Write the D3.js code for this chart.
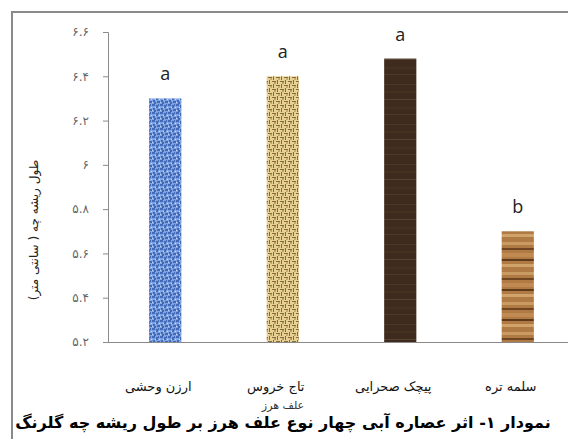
<!DOCTYPE html>
<html>
<head>
<meta charset="utf-8">
<script src="https://cdn.jsdelivr.net/npm/d3@7"></script>
<style>
  body { margin: 0; background: #fff; }
  svg { display: block; }
</style>
</head>
<body>
<main></main>
<script>
// data
const categories = ['ارزن وحشی', 'تاج خروس', 'پیچک صحرایی', 'سلمه تره']
const rootLength = [6.30, 6.40, 6.48, 5.70]
const groupLetters = ['a', 'a', 'a', 'b']
const yTicks = [5.2, 5.4, 5.6, 5.8, 6.0, 6.2, 6.4, 6.6]
const yTitle = 'طول ریشه چه ( سانتی متر)'
const xTitle = 'علف هرز'
const caption = 'نمودار ۱- اثر عصاره آبی چهار نوع علف هرز بر طول ریشه چه گلرنگ'

// sizes
const sizeOfSVG = { width: 568, height: 439 }
const plot = { left: 108, right: 575, top: 32, bottom: 342 }

const svg = d3.select('main')
              .append('svg')
              .attr('width', sizeOfSVG.width)
              .attr('height', sizeOfSVG.height)

// frame round the figure (runs off the right and bottom edge)
svg.append('rect')
   .attr('x', 12).attr('y', 12)
   .attr('width', 620).attr('height', 520)
   .attr('fill', 'none')
   .attr('stroke', '#8a8a8a')
   .attr('stroke-width', 2)

// textures for bars
const defs = svg.append('defs')

// blue mottled
const pBlue = defs.append('pattern').attr('id', 'tex0')
                  .attr('patternUnits', 'userSpaceOnUse').attr('width', 8).attr('height', 8)
pBlue.append('rect').attr('width', 8).attr('height', 8).attr('fill', '#7fa3e3')
;[[0,0,3,2],[4,1,2,3],[1,4,2,2],[5,5,3,2],[2,6,2,2],[6,0,1,2]].forEach(r => {
    pBlue.append('rect').attr('x', r[0]).attr('y', r[1]).attr('width', r[2]).attr('height', r[3])
         .attr('fill', '#2f57a8').attr('opacity', 0.75)
})
;[[3,3,1,1],[0,6,1,1],[7,3,1,1]].forEach(r => {
    pBlue.append('rect').attr('x', r[0]).attr('y', r[1]).attr('width', r[2]).attr('height', r[3])
         .attr('fill', '#c7d8f7')
})

// beige woven
const pWeave = defs.append('pattern').attr('id', 'tex1')
                   .attr('patternUnits', 'userSpaceOnUse').attr('width', 8).attr('height', 8)
pWeave.append('rect').attr('width', 8).attr('height', 8).attr('fill', '#e6d197')
pWeave.append('rect').attr('x', 0).attr('y', 1).attr('width', 4).attr('height', 1).attr('fill', '#8a6a32')
pWeave.append('rect').attr('x', 5).attr('y', 0).attr('width', 1).attr('height', 4).attr('fill', '#8a6a32')
pWeave.append('rect').attr('x', 4).attr('y', 5).attr('width', 4).attr('height', 1).attr('fill', '#8a6a32')
pWeave.append('rect').attr('x', 1).attr('y', 4).attr('width', 1).attr('height', 4).attr('fill', '#8a6a32')
pWeave.append('rect').attr('x', 2).attr('y', 2).attr('width', 2).attr('height', 2).attr('fill', '#a98544').attr('opacity', 0.7)
pWeave.append('rect').attr('x', 6).attr('y', 6).attr('width', 2).attr('height', 2).attr('fill', '#a98544').attr('opacity', 0.5)

// dark wood
const pDark = defs.append('pattern').attr('id', 'tex2')
                  .attr('patternUnits', 'userSpaceOnUse').attr('width', 32).attr('height', 40)
pDark.append('rect').attr('width', 32).attr('height', 40).attr('fill', '#3f2b1d')
;[[4,1,'#4d3626'],[11,2,'#46301f'],[19,1,'#574230'],[27,2,'#452f20'],[34,1,'#4f3a29']].forEach(s => {
    pDark.append('rect').attr('y', s[0]).attr('width', 32).attr('height', s[1]).attr('fill', s[2])
})

// light wood
const pLight = defs.append('pattern').attr('id', 'tex3')
                   .attr('patternUnits', 'userSpaceOnUse').attr('width', 32).attr('height', 30)
pLight.append('rect').attr('width', 32).attr('height', 30).attr('fill', '#b07a45')
;[[2,3,'#c99a62'],[8,2,'#6e4520'],[13,4,'#c08a52'],[19,2,'#5e3a1a'],[24,3,'#d0a36b']].forEach(s => {
    pLight.append('rect').attr('y', s[0]).attr('width', 32).attr('height', s[1]).attr('fill', s[2])
})

// scales
const xScale = d3.scaleBand()
                 .domain(categories)
                 .range([plot.left, plot.right])
                 .paddingInner(0.726)
                 .paddingOuter(0.35)
const yScale = d3.scaleLinear()
                 .domain([5.2, 6.6])
                 .range([plot.bottom, plot.top])

// persian digits for tick labels
const faDigits = s => s.replace(/[0-9]/g, c => '۰۱۲۳۴۵۶۷۸۹'[+c])

// bars
svg.selectAll('rect.bar')
   .data(rootLength)
   .enter()
   .append('rect')
   .attr('class', 'bar')
   .attr('x', (d, i) => xScale(categories[i]))
   .attr('y', d => yScale(d))
   .attr('width', xScale.bandwidth())
   .attr('height', d => plot.bottom - yScale(d))
   .attr('fill', (d, i) => `url(#tex${i})`)

// significance letters
svg.selectAll('text.letter')
   .data(rootLength)
   .enter()
   .append('text')
   .attr('class', 'letter')
   .attr('x', (d, i) => xScale(categories[i]) + xScale.bandwidth() / 2)
   .attr('y', d => yScale(d) - 18)
   .attr('text-anchor', 'middle')
   .style('font-family', 'Open Sans, sans-serif')
   .style('font-size', '18px')
   .style('fill', '#222')
   .text((d, i) => groupLetters[i])

// axes
const yAxis = d3.axisLeft(yScale)
                .tickValues(yTicks)
                .tickSize(5)
                .tickPadding(14)
                .tickFormat(d => faDigits(d3.format('~g')(d)))
const gy = svg.append('g')
              .attr('transform', `translate(${plot.left},0)`)
              .call(yAxis)
gy.select('.domain').attr('stroke', '#8a8a8a')
gy.selectAll('.tick line').attr('stroke', '#8a8a8a')
gy.selectAll('.tick text')
  .style('font-family', 'DejaVu Sans, sans-serif')
  .style('font-size', '12px')
  .style('fill', '#666')

const xAxis = d3.axisBottom(xScale).tickSize(0).tickPadding(40)
const gx = svg.append('g')
              .attr('transform', `translate(0,${plot.bottom})`)
              .call(xAxis)
gx.select('.domain').attr('stroke', '#8a8a8a')
gx.selectAll('.tick text')
  .attr('dx', -7)
  .style('font-family', 'DejaVu Sans, sans-serif')
  .style('font-size', '13px')
  .style('fill', '#111')

// axis titles
svg.append('text')
   .attr('transform', 'rotate(-90)')
   .attr('x', -230)
   .attr('y', 38)
   .attr('text-anchor', 'middle')
   .style('font-family', 'DejaVu Sans, sans-serif')
   .style('font-size', '12px')
   .style('fill', '#222')
   .text(yTitle)

svg.append('text')
   .attr('x', 283)
   .attr('y', 409)
   .attr('text-anchor', 'middle')
   .style('font-family', 'DejaVu Sans, sans-serif')
   .style('font-size', '11px')
   .style('fill', '#333')
   .text(xTitle)

// caption
svg.append('text')
   .attr('x', 283)
   .attr('y', 428)
   .attr('text-anchor', 'middle')
   .style('font-family', 'DejaVu Sans, sans-serif')
   .style('font-size', '16px')
   .style('font-weight', 'bold')
   .style('fill', '#000')
   .text(caption)
</script>
</body>
</html>
